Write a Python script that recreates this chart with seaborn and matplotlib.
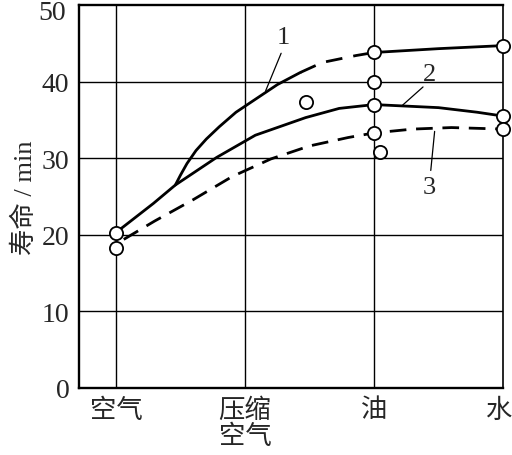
import numpy as np
import pandas as pd
import matplotlib
matplotlib.use('Agg')
import matplotlib.pyplot as plt
import matplotlib.transforms as mtransforms
import seaborn as sns

# categorias do eixo x
categorias = ['空气', '压缩\n空气', '油', '水']

# curva 1 (trecho sólido, tracejado, sólido)
c1a_x = [0.46, 0.50, 0.55, 0.62, 0.70, 0.80, 0.93, 1.09, 1.25, 1.43]
c1a_y = [26.5, 27.8, 29.3, 31.0, 32.5, 34.1, 36.0, 37.8, 39.6, 41.2]
c1b_x = [1.43, 1.60, 1.86, 2.0]
c1b_y = [41.2, 42.5, 43.4, 43.8]
c1c_x = [2.0, 2.5, 3.0]
c1c_y = [43.8, 44.3, 44.7]

# curva 2
c2_x = [0.0, 0.29, 0.46, 0.78, 1.08, 1.47, 1.73, 2.0, 2.5, 2.8, 3.0]
c2_y = [20.3, 24.1, 26.5, 30.1, 33.0, 35.3, 36.5, 37.0, 36.6, 36.0, 35.5]

# curva 3 (tracejada)
c3_x = [0.06, 0.3, 0.6, 0.9, 1.2, 1.5, 1.8, 2.0, 2.3, 2.6, 3.0]
c3_y = [19.4, 21.8, 24.6, 27.6, 29.9, 31.6, 32.7, 33.3, 33.8, 34.0, 33.8]

# pontos medidos
pts_x = [0, 0, 1.47, 2, 2, 2, 2, 2.05, 3, 3, 3]
pts_y = [20.3, 18.3, 37.4, 43.8, 40.0, 37.0, 33.3, 30.8, 44.7, 35.5, 33.8]

sns.set_theme(style='white')
plt.rcParams['font.family'] = ['Liberation Serif', 'Noto Sans CJK SC']

fig = plt.figure(figsize=(5.12, 4.56), dpi=100)
ax = fig.add_axes([79/512, 1-389/456, (503-79)/512, (389-6)/456])

# grade
for v in [10, 20, 30, 40]:
    ax.axhline(v, color='black', linewidth=1.0, zorder=1)
for v in [0, 1, 2]:
    ax.axvline(v, color='black', linewidth=1.0, zorder=1)

lw = 2.0
sns.lineplot(x=c1a_x, y=c1a_y, ax=ax, color='black', linewidth=lw, sort=False, zorder=3)
sns.lineplot(x=c1b_x, y=c1b_y, ax=ax, color='black', linewidth=lw, sort=False, zorder=3,
             linestyle=(0, (6, 4)))
sns.lineplot(x=c1c_x, y=c1c_y, ax=ax, color='black', linewidth=lw, sort=False, zorder=3)
sns.lineplot(x=c2_x, y=c2_y, ax=ax, color='black', linewidth=lw, sort=False, zorder=3)
sns.lineplot(x=c3_x, y=c3_y, ax=ax, color='black', linewidth=lw, sort=False, zorder=3,
             linestyle=(0, (6, 3.5)))

ax.plot(pts_x, pts_y, 'o', ms=9.5, mfc='white', mec='black', mew=1.3,
        zorder=5, clip_on=False)

# rótulos das curvas
ax.text(1.295, 45.8, '1', fontsize=19, ha='center', va='center')
ax.plot([1.28, 1.16], [43.7, 38.8], color='black', linewidth=0.9)
ax.text(2.43, 41.0, '2', fontsize=19, ha='center', va='center')
ax.plot([2.38, 2.22], [39.3, 36.9], color='black', linewidth=0.9)
ax.text(2.43, 26.2, '3', fontsize=19, ha='center', va='center')
ax.plot([2.44, 2.47], [28.4, 33.5], color='black', linewidth=0.9)

ax.set_xlim(-0.287, 3.0)
ax.set_ylim(0, 50)
ax.set_xticks(range(4))
ax.set_xticklabels(categorias, fontsize=19, linespacing=1.05)
ax.set_yticks([0, 10, 20, 30, 40])
ax.set_yticklabels(['0', '10', '20', '30', '40'], fontsize=20)
ax.text(-0.03, 50 - 1.0, '50', fontsize=20, ha='right', va='center',
        transform=ax.get_yaxis_transform(), clip_on=False)
ax.tick_params(length=0, pad=7)

# deslocar "水" um pouco para a esquerda
off = mtransforms.ScaledTranslation(-5/100, 0, fig.dpi_scale_trans)
lab = ax.get_xticklabels()[-1]
lab.set_transform(lab.get_transform() + off)

ax.set_ylabel('寿命 / min', fontsize=19)
ax.yaxis.set_label_coords(-0.10, 0.50)
ax.set_xlabel('')

for s in ax.spines.values():
    s.set_color('black')
    s.set_linewidth(1.7)
ax.spines['right'].set_linewidth(1.2)

fig.savefig('out.png', dpi=100)
